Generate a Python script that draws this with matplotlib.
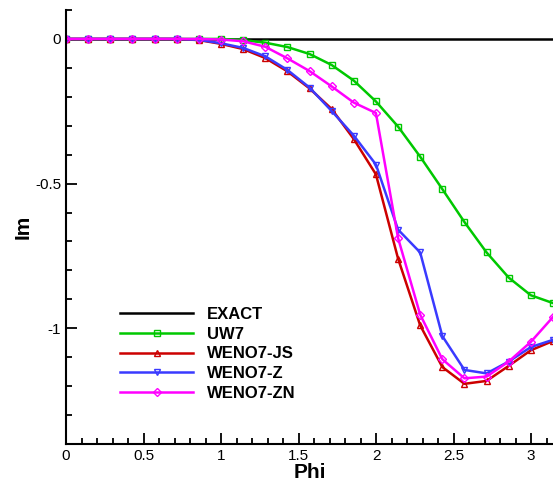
import numpy as np
import matplotlib
matplotlib.use('Agg')
import matplotlib.pyplot as plt
from matplotlib.ticker import MultipleLocator, FuncFormatter

plt.rcParams['font.family'] = ['Liberation Sans', 'DejaVu Sans']
plt.rcParams['axes.unicode_minus'] = False

# sample points phi_k = k*pi/22, k = 0..22
phi = np.linspace(0, np.pi, 23)

uw7 = [0, 0, 0, 0, 0, 0, 0, 0, -0.004, -0.013, -0.028, -0.052, -0.090,
       -0.144, -0.216, -0.303, -0.407, -0.519, -0.633, -0.738, -0.825,
       -0.886, -0.913]
weno7_js = [0, 0, 0, 0, 0, 0, -0.004, -0.017, -0.035, -0.066, -0.112,
            -0.171, -0.242, -0.346, -0.468, -0.759, -0.990, -1.134, -1.192,
            -1.182, -1.130, -1.076, -1.044]
weno7_z = [0, 0, 0, 0, 0, 0, -0.003, -0.015, -0.031, -0.060, -0.107,
           -0.168, -0.249, -0.334, -0.434, -0.659, -0.738, -1.027, -1.144,
           -1.156, -1.115, -1.065, -1.040]
weno7_zn = [0, 0, 0, 0, 0, 0, 0, -0.002, -0.008, -0.027, -0.067, -0.111,
            -0.164, -0.220, -0.256, -0.688, -0.953, -1.107, -1.173, -1.167,
            -1.115, -1.047, -0.961]

fig = plt.figure(figsize=(5.53, 4.83), dpi=100)
ax = fig.add_axes([66 / 553, 1 - 444 / 483, (553 - 66) / 553, 434 / 483])

lw = 1.8
ax.plot([0, np.pi], [0, 0], color='black', lw=lw, label='EXACT')
ax.plot(phi, uw7, color='#00c800', lw=lw, marker='s', ms=4.5, mfc='none',
        mew=1.0, label='UW7')
ax.plot(phi, weno7_js, color='#cc0000', lw=lw, marker='^', ms=5, mfc='none',
        mew=1.0, label='WENO7-JS')
ax.plot(phi, weno7_z, color='#3a3aff', lw=lw, marker='v', ms=5, mfc='none',
        mew=1.0, label='WENO7-Z')
ax.plot(phi, weno7_zn, color='#ff00ff', lw=lw, marker='D', ms=4, mfc='none',
        mew=1.0, label='WENO7-ZN')

ax.set_xlim(0, np.pi)
ax.set_ylim(-1.4, 0.1)
ax.spines['top'].set_visible(False)
ax.spines['right'].set_visible(False)
ax.spines['left'].set_linewidth(1.5)
ax.spines['bottom'].set_linewidth(1.5)

ax.xaxis.set_major_locator(MultipleLocator(0.5))
ax.xaxis.set_minor_locator(MultipleLocator(0.1))
ax.yaxis.set_major_locator(MultipleLocator(0.5))
ax.yaxis.set_minor_locator(MultipleLocator(0.1))
fmt = FuncFormatter(lambda v, p: '%g' % round(v, 3))
ax.xaxis.set_major_formatter(fmt)
ax.yaxis.set_major_formatter(fmt)
ax.tick_params(which='both', direction='in', labelsize=11, width=1.3)
ax.tick_params(which='major', length=8)
ax.tick_params(which='minor', length=4)

ax.set_xlabel('Phi', fontsize=15, fontweight='bold', labelpad=0)
ax.set_ylabel('Im', fontsize=15, fontweight='bold', labelpad=2)

ax.legend(loc='upper left', bbox_to_anchor=(0.097, 0.331), borderaxespad=0,
          frameon=False, numpoints=1, handlelength=4.4, handletextpad=0.8,
          labelspacing=0.28, prop={'weight': 'bold', 'size': 12})

fig.savefig('out.png', dpi=100)
